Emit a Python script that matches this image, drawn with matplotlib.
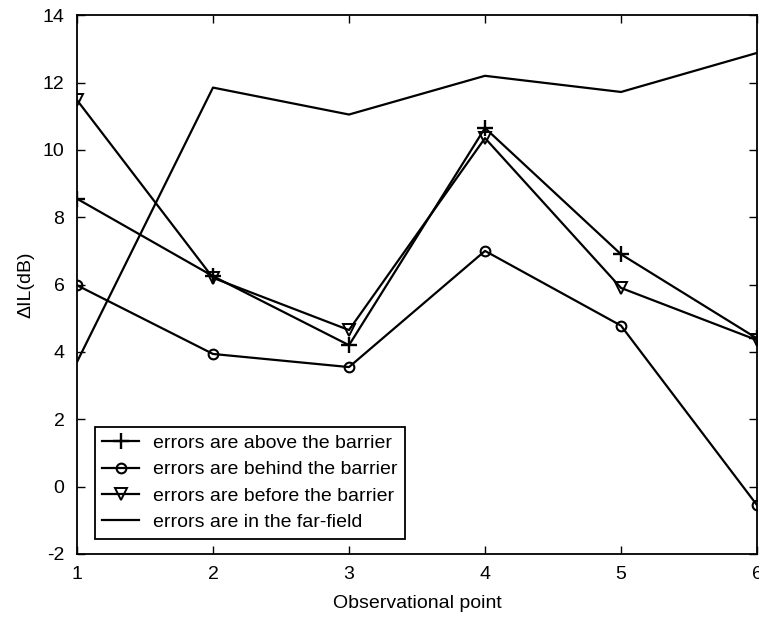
import matplotlib
matplotlib.use("Agg")
import matplotlib.pyplot as plt

# observational points and delta IL values (dB)
points = [1, 2, 3, 4, 5, 6]
above = [8.55, 6.25, 4.2, 10.65, 6.9, 4.4]
behind = [5.98, 3.94, 3.55, 7.0, 4.78, -0.55]
before = [11.48, 6.2, 4.65, 10.35, 5.9, 4.35]
far_field = [3.7, 11.85, 11.05, 12.2, 11.72, 12.88]

labels = [
    "errors are above the barrier",
    "errors are behind the barrier",
    "errors are before the barrier",
    "errors are in the far-field",
]

plt.rcParams["font.family"] = ["Liberation Sans", "DejaVu Sans"]
plt.rcParams["font.size"] = 14
plt.rcParams["axes.unicode_minus"] = False

fig = plt.figure(figsize=(7.59, 6.2), dpi=100)
ax = fig.add_axes([0.1014, 0.1065, 0.896, 0.869])

lw = 1.6
ax.plot(points, above, color="black", lw=lw, marker="+", ms=11, mew=1.7,
        label=labels[0])
ax.plot(points, behind, color="black", lw=lw, marker="o", ms=7, mew=1.5,
        mfc="none", label=labels[1])
ax.plot(points, before, color="black", lw=lw, marker="v", ms=9, mew=1.4,
        mfc="none", label=labels[2])
ax.plot(points, far_field, color="black", lw=lw, label=labels[3])

ax.set_xlim(1, 6)
ax.set_ylim(-2, 14)
ax.set_xticks(points)
ax.set_yticks(range(-2, 15, 2))
ax.tick_params(direction="in", length=6, width=1, top=True, right=True,
               labelsize=14, pad=9)
for sp in ax.spines.values():
    sp.set_linewidth(1.3)

ax.set_xlabel("Observational point", fontsize=14, labelpad=8)
ax.set_ylabel("\u0394IL(dB)", fontsize=14, labelpad=6)

leg = ax.legend(loc="lower left", bbox_to_anchor=(0.026, 0.028),
                borderaxespad=0, fancybox=False, framealpha=1,
                edgecolor="black", fontsize=14, handlelength=1.9,
                handletextpad=0.7, labelspacing=0.45, borderpad=0.4)
leg.get_frame().set_linewidth(1.3)

fig.savefig("out.png", dpi=100)
